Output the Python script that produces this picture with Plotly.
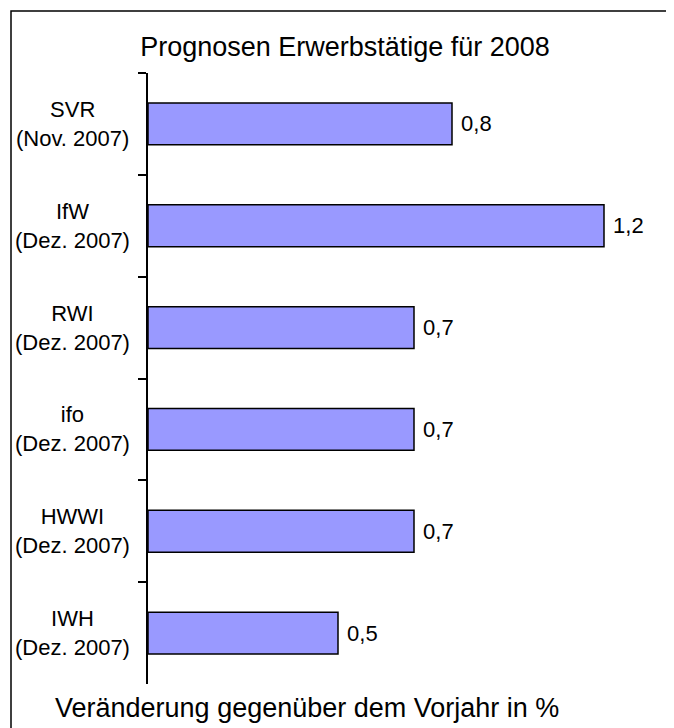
import plotly.graph_objects as go

institutes = ["SVR", "IfW", "RWI", "ifo", "HWWI", "IWH"]
dates = ["(Nov. 2007)", "(Dez. 2007)", "(Dez. 2007)", "(Dez. 2007)", "(Dez. 2007)", "(Dez. 2007)"]
values = [0.8, 1.2, 0.7, 0.7, 0.7, 0.5]
value_labels = [" " + f"{v:.1f}".replace(".", ",") for v in values]

# the page body has an 8px margin, so the figure starts at (8, 8) in the window
OFF = 8
W, H = 674 - OFF, 728 - OFF
left, top = 148 - OFF, 73 - OFF
right, bottom = 32, 728 - 684
plot_w = W - left - right
plot_h = H - top - bottom


def px_x(px):
    return (px - OFF - left) / plot_w


def px_y(py):
    return (H - bottom - (py - OFF)) / plot_h


font = "Arial, Liberation Sans, sans-serif"

fig = go.Figure()
fig.add_trace(go.Bar(
    x=values,
    y=institutes,
    orientation="h",
    width=0.41,
    marker={"color": "#9999FF", "line": {"color": "#000000", "width": 1.5}},
    text=value_labels,
    textposition="outside",
    textfont={"size": 22, "color": "#000000", "family": font},
    constraintext="none",
    cliponaxis=False,
    hoverinfo="skip",
    showlegend=False,
))

for name, date in zip(institutes, dates):
    fig.add_annotation(
        x=px_x(72), xref="paper", y=name, yref="y",
        text=f"{name}<br>{date}", showarrow=False,
        xanchor="center", yanchor="middle", align="center",
        font={"size": 22, "color": "#000000", "family": font},
    )

fig.add_annotation(
    x=px_x(307), xref="paper", y=px_y(708), yref="paper",
    text="Veränderung gegenüber dem Vorjahr in %", showarrow=False,
    xanchor="center", yanchor="middle",
    font={"size": 27, "color": "#000000", "family": font},
)

# outer chart frame: only the left and top edges fall inside the picture
x_l, x_r = px_x(11), px_x(700)
y_t, y_b = px_y(11), px_y(760)
fig.add_shape(
    type="path", xref="paper", yref="paper",
    path=f"M {x_l} {y_b} L {x_l} {y_t} L {x_r} {y_t}",
    line={"color": "#000000", "width": 1.5},
)

fig.update_layout(
    width=W,
    height=H,
    paper_bgcolor="#FFFFFF",
    plot_bgcolor="#FFFFFF",
    margin={"l": left, "r": right, "t": top, "b": bottom, "autoexpand": False},
    title={
        "text": "Prognosen Erwerbstätige für 2008",
        "xref": "container", "yref": "container",
        "x": (345 - OFF) / W, "xanchor": "center",
        "y": 1 - (47 - OFF) / H, "yanchor": "middle",
        "font": {"size": 27, "color": "#000000", "family": font},
    },
    xaxis={
        "range": [0, 1.3],
        "visible": False,
        "showgrid": False,
        "zeroline": False,
    },
    yaxis={
        "type": "category",
        "categoryorder": "array",
        "categoryarray": institutes,
        "autorange": "reversed",
        "showticklabels": False,
        "showgrid": False,
        "showline": True,
        "linecolor": "#000000",
        "linewidth": 1.5,
        "ticks": "outside",
        "tickson": "boundaries",
        "ticklen": 8,
        "tickwidth": 1.5,
        "tickcolor": "#000000",
    },
)

fig.write_html("out.html")
